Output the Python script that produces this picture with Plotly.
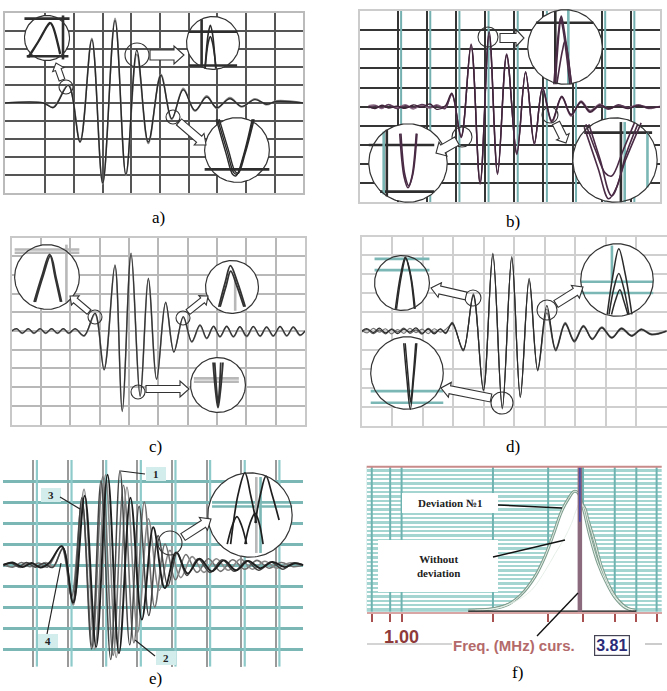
import numpy as np
import plotly.graph_objects as go

W, H = 667, 691

# ---------------- waveform extrema (time, amplitude) ----------------
# a) two superimposed echo signals
a_t = [-0.41, 0.93, 1.28, 1.80, 2.21, 2.62, 3.00, 3.43, 3.81, 4.19, 4.59, 5.03,
       5.41, 5.81, 6.22, 6.63, 6.98, 7.44, 7.85, 8.31, 8.72, 9.07, 10.0]
a_ref = [0, 0, -0.26, 0.98, -2.17, 3.52, -4.44, 4.59, -3.96, 2.93, -2.17, 1.54,
         -0.87, 0.74, -0.41, 0.33, -0.26, 0.24, -0.19, 0.19, -0.07, 0.09, 0]
a_dev = [0, 0, -0.22, 1.02, -2.10, 3.60, -4.50, 4.70, -4.02, 2.70, -2.25, 1.60,
         -0.92, 0.82, -0.46, 0.40, -0.30, 0.30, -0.22, 0.24, -0.10, 0.12, 0]

# b) three signals
b_t = [0, 0.23, 0.46, 0.69, 0.97, 1.26, 1.54, 1.83, 2.11, 2.34, 2.63, 2.86, 3.18,
       3.52, 3.83, 4.14, 4.43, 4.74, 5.09, 5.39, 5.69, 5.97, 6.29, 6.63, 6.95,
       7.29, 7.6, 7.94, 8.23, 8.57, 8.91, 9.26, 9.6, 10]
b_1 = [0, -0.1, 0.07, -0.07, 0.03, -0.09, 0.09, -0.03, 0.14, -0.14, 0.03, 0.7,
       -1.57, 3.22, -4.0, 3.92, -3.48, 2.7, -2.44, 1.83, -1.92, 0.96, -0.78, 0.52,
       -0.44, 0.26, -0.26, 0.09, -0.09, 0.03, -0.1, 0.05, -0.07, 0]
b_2 = [0.05, 0.08, -0.1, 0.12, -0.05, 0.1, -0.12, 0.06, -0.08, 0.1, -0.05, 0.62,
       -1.5, 3.1, -3.92, 3.85, -3.4, 2.62, -2.36, 1.76, -1.85, 0.9, -0.85, 0.48,
       -0.5, 0.3, -0.2, 0.14, -0.12, 0.08, -0.05, 0.1, -0.1, 0.02]
b_3 = [-0.06, 0.04, -0.04, 0.1, -0.1, 0.05, -0.05, 0.12, -0.02, 0.05, -0.1, 0.66,
       -1.62, 3.28, -4.05, 3.7, -3.55, 2.75, -2.5, 1.8, -1.98, 1.0, -0.72, 0.55,
       -0.4, 0.22, -0.3, 0.05, -0.14, 0.1, -0.06, 0.08, -0.03, -0.02]

# c) two signals with periodic background
c_t = [0, 0.17, 0.36, 0.57, 0.76, 0.97, 1.16, 1.36, 1.56, 1.76, 1.95, 2.16,
       2.47, 2.84, 3.15, 3.52, 3.77, 4.07, 4.38, 4.66, 4.94, 5.25, 5.53, 5.85, 6.14,
       6.42, 6.65, 6.88, 7.1, 7.33, 7.56, 7.78, 8.01, 8.24, 8.47, 8.69, 8.92, 9.15,
       9.38, 9.6, 9.83, 10]
c_1 = [0, 0.12, -0.12, 0.12, -0.12, 0.12, -0.12, 0.12, -0.12, 0.12, -0.12, 0.12,
       -0.25, 0.95, -2.09, 3.54, -4.32, 4.16, -3.52, 2.82, -2.6, 1.54, -1.14, 0.77, -0.57,
       0.32, -0.39, 0.25, -0.3, 0.25, -0.3, 0.23, -0.28, 0.24, -0.27, 0.22, -0.26, 0.24,
       -0.25, 0.22, -0.22, 0]
c_2 = [0, 0.1, -0.14, 0.1, -0.14, 0.1, -0.14, 0.1, -0.14, 0.1, -0.14, 0.1,
       -0.28, 0.9, -2.0, 3.45, -4.25, 4.05, -3.45, 2.75, -2.55, 1.48, -1.1, 0.72, -0.6,
       0.28, -0.42, 0.22, -0.33, 0.22, -0.33, 0.2, -0.31, 0.21, -0.3, 0.19, -0.29, 0.21,
       -0.28, 0.19, -0.25, 0]

# d) three signals
d_t = [0, 0.18, 0.38, 0.58, 0.78, 0.98, 1.18, 1.38, 1.58, 1.78, 1.98, 2.18, 2.38,
       2.58, 2.75, 2.97, 3.33, 3.66, 3.99, 4.3, 4.61, 4.92, 5.2, 5.49, 5.77, 6.07,
       6.36, 6.67, 6.97, 7.27, 7.56, 7.87, 8.2, 8.52, 8.85, 9.17, 9.5, 10]
d_1 = [0, 0.12, -0.08, 0.15, -0.1, 0.08, -0.14, 0.1, -0.06, 0.16, -0.12, 0.1,
       -0.15, 0.12, -0.1, 0.4, -1.0, 1.89, -3.1, 4.04, -4.04, 3.91, -3.46, 2.77,
       -2.05, 1.33, -1.0, 0.4, -0.53, 0.26, -0.42, 0.18, -0.35, 0.14, -0.25, 0.09,
       -0.18, 0]
d_2 = [0.04, -0.1, 0.14, -0.06, 0.12, -0.15, 0.08, -0.12, 0.14, -0.08, 0.1, -0.14,
       0.12, -0.06, 0.08, 0.35, -0.95, 1.82, -3.0, 3.95, -3.95, 3.82, -3.38, 2.7,
       -2.0, 1.15, -0.92, 0.46, -0.48, 0.3, -0.38, 0.22, -0.32, 0.17, -0.22, 0.12,
       -0.15, 0.02]
d_3 = [-0.05, 0.08, -0.14, 0.06, -0.15, 0.12, -0.06, 0.15, -0.12, 0.06, -0.16, 0.14,
       -0.08, 0.1, -0.14, 0.45, -1.05, 1.95, -3.15, 4.1, -4.1, 3.85, -3.5, 2.65,
       -2.1, 0.95, -1.05, 0.35, -0.58, 0.22, -0.45, 0.15, -0.38, 0.1, -0.28, 0.06,
       -0.2, -0.02]

# e) four signals, labelled 1..4
e_1_t = [-0.87, -0.65, -0.42, -0.2, 0.05, 0.3, 0.55, 0.86, 1.13, 1.4, 1.68, 1.95,
         2.23, 2.5, 2.78, 3.05, 3.33, 3.6, 3.88, 4.15, 4.43, 4.75, 5.1, 5.45, 5.8,
         6.15, 6.5, 6.85, 7.2, 7.5, 7.79]
e_1_v = [0, 0.1, -0.08, 0.12, -0.1, 0.08, -0.12, 0.8, -1.8, 3.2, -4.0, 4.0, -4.5,
         4.5, -3.8, 2.8, -2.4, 1.4, -1.0, 0.6, -0.5, 0.3, -0.35, 0.25, -0.3, 0.2,
         -0.25, 0.15, -0.2, 0.1, 0]
e_2_t = [-0.87, -0.6, -0.35, -0.1, 0.15, 0.4, 0.8, 1.1, 1.4, 1.7, 2.0, 2.3, 2.6,
         2.9, 3.2, 3.5, 3.8, 4.1, 4.4, 4.72, 5.05, 5.4, 5.75, 6.1, 6.45, 6.8, 7.15,
         7.5, 7.79]
e_2_v = [0.05, -0.1, 0.12, -0.08, 0.1, -0.1, 0.9, -1.5, 3.0, -3.9, 4.2, -4.3, 3.8,
         -3.7, 3.0, -2.0, 1.0, -0.7, 0.5, -0.35, 0.3, -0.3, 0.25, -0.2, 0.22, -0.15,
         0.12, -0.08, 0]
e_3_t = [-0.87, -0.62, -0.38, -0.15, 0.1, 0.35, 0.58, 0.84, 1.15, 1.46, 1.77, 2.08,
         2.39, 2.7, 3.01, 3.32, 3.63, 3.94, 4.25, 4.58, 4.92, 5.28, 5.62, 5.98, 6.32,
         6.68, 7.02, 7.38, 7.79]
e_3_v = [-0.05, 0.1, -0.12, 0.08, -0.1, 0.12, -0.08, 0.8, -1.9, 3.6, -4.0, 4.3,
         -4.4, 3.7, -3.2, 2.2, -1.2, 0.7, -0.6, 0.4, -0.35, 0.3, -0.25, 0.28, -0.2,
         0.18, -0.15, 0.1, 0]
e_4_t = [-0.87, -0.6, -0.32, -0.05, 0.2, 0.45, 0.82, 1.15, 1.48, 1.81, 2.14, 2.47,
         2.8, 3.13, 3.46, 3.79, 4.12, 4.45, 4.8, 5.15, 5.5, 5.85, 6.2, 6.55, 6.9,
         7.25, 7.55, 7.79]
e_4_v = [0, 0.12, -0.1, 0.1, -0.12, 0.1, 0.9, -1.8, 3.3, -3.9, 4.3, -4.2, 3.2,
         -2.6, 1.8, -1.1, 0.6, -0.4, 0.3, -0.3, 0.22, -0.25, 0.2, -0.15, 0.15, -0.1,
         0.08, 0]
e_labels = ["1", "2", "3", "4"]

# f) amplitude spectra, frequency in MHz
f_dev_x = [2.05, 2.44, 2.68, 2.89, 3.10, 3.26, 3.39, 3.52, 3.63, 3.72, 3.78, 3.86,
           3.97, 4.10, 4.23, 4.36, 4.52, 4.68]
f_dev_y = [0.01, 0.02, 0.05, 0.12, 0.24, 0.38, 0.53, 0.69, 0.78, 0.83, 0.82, 0.72,
           0.52, 0.33, 0.20, 0.10, 0.03, 0.01]
f_ref_x = [2.16, 2.47, 2.79, 3.05, 3.26, 3.42, 3.57, 3.68, 3.76, 3.81, 3.88, 3.94,
           4.05, 4.15, 4.28, 4.41, 4.57, 4.70]
f_ref_y = [0.01, 0.02, 0.07, 0.15, 0.28, 0.40, 0.51, 0.61, 0.71, 0.75, 0.72, 0.63,
           0.47, 0.31, 0.17, 0.08, 0.02, 0.0]
f_ticks = [0.53, 0.82, 1.0, 2.44, 3.31, 3.86, 4.36, 4.70, 5.02]
f_start = 1.00
f_cursor = 3.81
f_names = ["Deviation №1", "Without<br>deviation"]

# ---------------- magnified views (unit circle coordinates) ----------------
a_zoom1 = [([-0.86, -0.4, 0.04, 0.13, 0.24, 0.57], [-0.86, -0.16, 0.6, 0.68, 0.52, -0.72]),
           ([-0.8, -0.35, 0.08, 0.17, 0.28, 0.6], [-0.86, -0.13, 0.6, 0.66, 0.5, -0.7])]
a_zoom2 = [([-0.3, -0.18, -0.1, -0.02, 0.1], [-0.95, 0.35, 0.67, 0.35, -0.95]),
           ([-0.3, -0.18, -0.1, -0.02, 0.12], [-0.98, 0.02, 0.24, 0.02, -0.98])]
a_zoom3 = [([-0.6, -0.3, -0.1, 0.0, 0.22, 0.5], [0.95, -0.05, -0.7, -0.75, -0.15, 0.95]),
           ([-0.55, -0.26, -0.06, 0.04, 0.25, 0.53], [0.95, -0.02, -0.66, -0.72, -0.12, 0.95]),
           ([-0.64, -0.34, -0.13, -0.03, 0.19, 0.47], [0.95, -0.1, -0.76, -0.8, -0.2, 0.95])]
b_zoom1 = [([-0.26, -0.15, -0.1, -0.03, 0.17], [-1.0, 0.5, 0.83, 0.5, -0.96]),
           ([-0.22, -0.07, 0.0, 0.06, 0.17], [-1.0, -0.1, 0.17, -0.1, -1.0]),
           ([-0.3, -0.17, -0.12, -0.05, 0.13], [-1.0, 0.45, 0.78, 0.45, -1.0])]
b_zoom2 = [([-0.21, -0.1, 0.0, 0.1, 0.21], [0.75, -0.35, -0.63, -0.35, 0.75]),
           ([-0.18, -0.08, 0.02, 0.12, 0.23], [0.75, -0.3, -0.58, -0.3, 0.75])]
b_zoom3 = [([-0.69, -0.45, -0.23, -0.08, 0.2, 0.46], [0.85, 0.2, -0.31, -0.38, 0.25, 0.88]),
           ([-0.62, -0.35, -0.08, 0.25, 0.62], [0.85, 0.0, -0.85, 0.0, 0.88]),
           ([-0.73, -0.4, -0.15, 0.05, 0.25, 0.54], [0.78, -0.2, -0.92, -0.62, 0.1, 0.85])]
c_zoom1 = [([-0.4, -0.15, 0.08, 0.25, 0.42], [-0.77, 0.05, 0.7, 0.0, -0.77]),
           ([-0.36, -0.12, 0.11, 0.28, 0.45], [-0.77, 0.03, 0.66, -0.02, -0.77])]
c_zoom2 = [([-0.5, -0.25, -0.06, 0.2, 0.5], [-0.75, 0.2, 0.81, 0.2, -0.75]),
           ([-0.45, -0.22, -0.05, 0.18, 0.45], [-0.75, 0.05, 0.6, 0.05, -0.75])]
c_zoom3 = [([-0.18, -0.08, 0.0, 0.08, 0.18], [0.82, -0.3, -0.82, -0.3, 0.82]),
           ([-0.12, -0.05, 0.0, 0.05, 0.1], [0.82, -0.2, -0.7, -0.2, 0.82])]
d_zoom1 = [([-0.24, -0.05, 0.12, 0.3, 0.45], [-0.94, 0.3, 0.94, 0.3, -0.94]),
           ([-0.2, -0.02, 0.14, 0.32, 0.48], [-0.94, 0.28, 0.9, 0.28, -0.94])]
d_zoom2 = [([-0.27, -0.1, 0.05, 0.22, 0.41], [-0.95, 0.2, 0.86, 0.2, -0.95]),
           ([-0.22, -0.08, 0.05, 0.18, 0.33], [-0.95, -0.2, 0.18, -0.2, -0.95]),
           ([-0.15, -0.04, 0.08, 0.18, 0.3], [-0.95, -0.55, -0.27, -0.55, -0.95])]
d_zoom3 = [([-0.09, 0.0, 0.09, 0.18, 0.27], [0.82, -0.2, -1.0, -0.2, 0.82]),
           ([-0.05, 0.03, 0.1, 0.17, 0.24], [0.82, -0.1, -0.8, -0.1, 0.82])]
e_zoom1 = [([-0.46, -0.28, -0.12, 0.02, 0.15], [-0.69, 0.5, 1.0, 0.45, -0.19]),
           ([0.12, 0.25, 0.38, 0.52, 0.69], [-0.19, 0.5, 0.92, 0.5, -0.12]),
           ([-0.54, -0.42, -0.31, -0.2, -0.08], [-0.69, -0.25, -0.04, -0.25, -0.69]),
           ([-0.12, 0.0, 0.12, 0.22, 0.31], [-0.69, -0.2, 0.04, -0.2, -0.69])]

# ---------------- styling ----------------
DARK = "#2e2e2e"
TEAL = "#7ab7b5"
GRAY = "#b8b8b8"
RULE_COL = {"d": DARK, "t": TEAL, "g": GRAY}
SERIF = "Liberation Serif"
SANS = "Liberation Sans"

fig = go.Figure()
layout = dict(width=W, height=H, margin=dict(l=0, r=0, t=0, b=0),
              paper_bgcolor="white", plot_bgcolor="rgba(0,0,0,0)",
              showlegend=False, hovermode=False)
shapes, annotations = [], []


def axn(i, c):
    return f"{c}axis" if i == 1 else f"{c}axis{i}"


def ref(i, c):
    return c if i == 1 else f"{c}{i}"


def px_x(x):
    return x / W


def px_y(y):
    return 1 - y / H


def text_at(x, y, text, font, xref="paper", **kw):
    annotations.append(dict(x=x, y=px_y(y), xref=xref, yref="paper", text=text,
                            showarrow=False, xanchor="center", yanchor="middle",
                            font=font, **kw))


def panel(i, box, xr, yr, xgrid, ygrid, gcol, gw, border=None):
    x0, y0, x1, y1 = box
    common = dict(showticklabels=False, ticks="", zeroline=False, fixedrange=True,
                  showgrid=True, gridcolor=gcol, gridwidth=gw,
                  showline=border is not None, linecolor=border or "white",
                  linewidth=1.5, mirror=True)
    layout[axn(i, "x")] = dict(domain=[px_x(x0), px_x(x1)], range=xr,
                               anchor=ref(i, "y"), tickvals=xgrid, **common)
    layout[axn(i, "y")] = dict(domain=[px_y(y1), px_y(y0)], range=yr,
                               anchor=ref(i, "x"), tickvals=ygrid, **common)


def curve(i, x, y, color, width, spline=True, **kw):
    fig.add_trace(go.Scatter(
        x=x, y=y, xaxis=ref(i, "x"), yaxis=ref(i, "y"), mode="lines",
        line=dict(color=color, width=width, shape="spline" if spline else "linear",
                  smoothing=1.0), hoverinfo="skip", **kw))


def vrule(i, x, yr, color, width):
    curve(i, [x, x], yr, color, width, spline=False)


def paper_line(x0, y0, x1, y1, color, width):
    shapes.append(dict(type="line", xref="paper", yref="paper", x0=px_x(x0),
                       y0=px_y(y0), x1=px_x(x1), y1=px_y(y1),
                       line=dict(color=color, width=width), layer="above"))


def paper_rect(x0, y0, x1, y1, fill, layer="above"):
    shapes.append(dict(type="rect", xref="paper", yref="paper", x0=px_x(x0),
                       x1=px_x(x1), y0=px_y(y1), y1=px_y(y0), fillcolor=fill,
                       line=dict(width=0), layer=layer))


def arrow(p0, p1, sw, hw, hl):
    (x0, y0), (x1, y1) = p0, p1
    dx, dy = x1 - x0, y1 - y0
    L = np.hypot(dx, dy)
    ux_, uy_ = dx / L, dy / L
    nx, ny = -uy_, ux_
    bx, by = x1 - ux_ * hl, y1 - uy_ * hl
    pts = [(x0 + nx * sw / 2, y0 + ny * sw / 2), (bx + nx * sw / 2, by + ny * sw / 2),
           (bx + nx * hw / 2, by + ny * hw / 2), (x1, y1),
           (bx - nx * hw / 2, by - ny * hw / 2), (bx - nx * sw / 2, by - ny * sw / 2),
           (x0 - nx * sw / 2, y0 - ny * sw / 2)]
    path = "M " + " L ".join(f"{px_x(px):.5f},{px_y(py):.5f}" for px, py in pts) + " Z"
    shapes.append(dict(type="path", xref="paper", yref="paper", path=path,
                       fillcolor="white", line=dict(color="#333", width=1.1),
                       layer="above"))


def ring(cx, cy, r, width=1.1):
    shapes.append(dict(type="circle", xref="paper", yref="paper",
                       x0=px_x(cx - r), x1=px_x(cx + r), y0=px_y(cy + r), y1=px_y(cy - r),
                       line=dict(color="#333", width=width), layer="above"))


# ---------------- main panels ----------------
panel(1, (5, 13, 303.3, 193), [-0.41, 10], [-5, 5], list(range(1, 11)),
      list(range(-4, 5)), "#555555", 1.5, border="#bbbbbb")
panel(2, (360, 11, 660, 202.3), [-0.29, 10], [-5, 5], list(range(1, 11)),
      list(range(-4, 5)), "#353535", 1.5, border="#cccccc")
panel(3, (11.7, 238.3, 305, 425), [0, 10], [-5.04, 4.96], list(range(1, 10)),
      list(range(-4, 5)), GRAY, 2, border="#c8c8c8")
panel(4, (361.7, 236.7, 666.7, 425.7), [0, 10], [-4.98, 4.96], list(range(1, 10)),
      list(range(-4, 5)), "#cfcfcf", 2, border="#d0d0d0")
panel(5, (3.3, 460, 303.3, 666.7), [-0.87, 7.79], [-4.84, 5.0], list(range(0, 8)),
      list(range(-4, 5)), TEAL, 3)
layout["xaxis5"]["gridcolor"] = "#9a9a9a"
layout["xaxis5"]["gridwidth"] = 1.5

# doubled grid lines in b) and e)
for v in range(1, 10):
    vrule(2, v + 0.12, [-5, 5], "#74b0b0", 2)
for v in range(0, 8):
    vrule(5, v + 0.1, [-4.84, 5.0], "#8fcaca", 2.2)

# a)
curve(1, a_t, a_dev, "#8a8a8a", 1.6)
curve(1, a_t, a_ref, "#2a2a2a", 1.4)
# b)
for ser, col in ((b_2, "#8b6c86"), (b_3, "#5a3a56"), (b_1, "#3e2339")):
    curve(2, b_t, ser, col, 1.4)
# c)
curve(3, c_t, c_2, "#8c8c8c", 1.6)
curve(3, c_t, c_1, "#333333", 1.3)
# d)
for ser, col in ((d_2, "#777777"), (d_3, "#555555"), (d_1, "#2a2a2a")):
    curve(4, d_t, ser, col, 1.2)
# e)
for (tt, vv), col, wd in (((e_2_t, e_2_v), "#6f6f6f", 1.6),
                          ((e_3_t, e_3_v), "#888888", 1.6),
                          ((e_1_t, e_1_v), "#444444", 1.5),
                          ((e_4_t, e_4_v), "#1e1e1e", 1.9)):
    curve(5, tt, vv, col, wd)

# ---------------- f) spectrum ----------------
F_BOX = (366.7, 466.7, 661.7, 611.7)
layout["xaxis6"] = dict(domain=[px_x(F_BOX[0]), px_x(F_BOX[2])], range=[0.45, 5.1],
                        anchor="y6", tickvals=f_ticks, showticklabels=False,
                        ticks="outside", ticklen=8, tickwidth=2, tickcolor="#a85050",
                        showgrid=False, zeroline=False, showline=True,
                        linecolor="#d8a4a4", linewidth=2, fixedrange=True)
layout["yaxis6"] = dict(domain=[px_y(F_BOX[3]), px_y(F_BOX[1])], range=[0, 1],
                        anchor="x6", tickvals=[k * 0.03 for k in range(1, 34)],
                        showticklabels=False, ticks="", showgrid=True,
                        gridcolor="white", gridwidth=1.6, zeroline=False,
                        showline=False, fixedrange=True)
paper_rect(*F_BOX, "#a5d5d1", layer="below")
for v in f_ticks:
    vrule(6, v, [0, 1], "#6fb3b1", 2)
paper_line(F_BOX[0], F_BOX[1], F_BOX[2], F_BOX[1], "#c98a8a", 2)

for xs, ys in ((f_ref_x, f_ref_y), (f_dev_x, f_dev_y)):
    fig.add_trace(go.Scatter(x=xs, y=ys, xaxis="x6", yaxis="y6", mode="lines",
                             fill="tozeroy", fillcolor="white",
                             line=dict(color="#7f9e8f", width=3, shape="spline"),
                             hoverinfo="skip"))
for xs, ys in ((f_ref_x, f_ref_y), (f_dev_x, f_dev_y)):
    curve(6, xs, ys, "#e6efe8", 1)
curve(6, [min(f_dev_x + f_ref_x), max(f_dev_x + f_ref_x)], [0, 0], "#111111", 2.2,
      spline=False)
curve(6, [f_cursor, f_cursor], [0, 1], "#8c6a7e", 4.5, spline=False)
curve(6, [f_cursor, f_cursor], [0.62, 1], "#4747b0", 1.5, spline=False)

# label boxes and leaders
paper_rect(402, 493, 498, 513, "white")
paper_rect(378, 540, 498, 592, "white")
text_at(px_x(450), 503, f"<b>{f_names[0]}</b>", dict(family=SERIF, size=11, color="#222"))
text_at(px_x(438), 566, f"<b>{f_names[1]}</b>", dict(family=SERIF, size=11, color="#222"))
for seg in ((498, 505, 562, 508), (493, 557, 565, 540), (537, 636, 578, 593)):
    paper_line(*seg, "#111", 1.4)

text_at(f_start, 637, f"<b>{f_start:.2f}</b>",
        dict(family=SANS, size=18, color="#8e3a3a"), xref="x6")
paper_line(367, 644, 452, 644, "#aaaaaa", 1.2)
paper_line(645, 644, 662, 644, "#aaaaaa", 1.2)
text_at(px_x(514), 645, "<b>Freq. (MHz) curs.</b>",
        dict(family=SANS, size=15, color="#b46a6a"))
text_at(px_x(612), 645, f"<b>{f_cursor:.2f}</b>",
        dict(family=SANS, size=16, color="#2b2b78"),
        bgcolor="white", bordercolor="#445", borderwidth=1.2, borderpad=1)

# ---------------- e) curve labels ----------------
e_tags = [((156, 474), (145, 474), (121, 471)),
          ((166, 658), (155, 656), (135, 640)),
          ((51, 495), (60, 497), (80, 509)),
          ((48, 641), (47, 634), (61, 563))]
for lab, ((tx, ty), (l0x, l0y), (l1x, l1y)) in zip(e_labels, e_tags):
    paper_rect(tx - 10, ty - 7, tx + 10, ty + 7, "#d3eded")
    paper_line(l0x, l0y, l1x, l1y, "#222", 1.2)
    text_at(px_x(tx), ty, f"<b>{lab}</b>", dict(family=SERIF, size=11, color="#222"))

# ---------------- magnified insets ----------------
insets = [
    # (big circle cx, cy, r), views, rulers, small circle, arrow, curve style
    ((47, 38, 23), a_zoom1, [(-1, 0.86, 1, 0.86, "d"), (-0.9, -0.81, 0.95, -0.81, "d"),
                            (0.71, -0.95, 0.71, 1.0, "d")],
     (66, 87, 7), ((62, 80), (56, 63), 6, 12, 7), ("#2a2a2a", 1.6)),
    ((213, 43, 27), a_zoom2, [(-0.91, 0.43, 0.91, 0.43, "d"), (-0.91, -0.85, 0.91, -0.85, "d"),
                             (-0.43, -0.9, -0.43, 0.9, "d")],
     (137, 55, 12), ((150, 55), (184, 55), 10, 18, 10), ("#2a2a2a", 1.6)),
    ((237, 150, 33), a_zoom3, [(-1, -0.6, 1, -0.6, "d")],
     (173, 117, 7), ((179, 122), (206, 145), 8, 15, 9), ("#2a2a2a", 1.4)),
    ((565, 47, 38), b_zoom1, [(-0.78, 0.65, 0.76, 0.65, "d"), (-0.26, -0.97, -0.26, 0.97, "d"),
                             (0.09, -1, 0.09, 1, "t")],
     (488, 37, 10), ((500, 38), (524, 38), 9, 17, 8), ("#4a2b45", 1.6)),
    ((408, 163, 40), b_zoom2, [(-1, 0.46, 0.67, 0.46, "d"), (-0.71, -0.73, 0.67, -0.73, "d"),
                              (-0.54, -0.85, -0.54, 0.85, "d"), (-0.62, -0.8, -0.62, 0.8, "t")],
     (462, 137, 10), ((457, 141), (436, 153), 9, 16, 8), ("#4a2b45", 1.6)),
    ((615, 160, 43), b_zoom3, [(-0.73, 0.65, 0.88, 0.65, "d"), (0.14, -1, 0.14, 0.9, "d"),
                              (0.23, -1, 0.23, 0.9, "t"), (0.77, -0.65, 0.77, 0.65, "t")],
     (550, 115, 8), ((556, 123), (566, 143), 8, 14, 7), ("#4a2b45", 1.6)),
    ((47, 277, 33), c_zoom1, [(-1, 0.85, 1, 0.85, "g"), (-1, 0.75, 1, 0.75, "g"),
                             (0.6, -0.8, 0.6, 1, "g")],
     (95, 317, 7), ((89, 312), (70, 296), 6, 12, 7), ("#333333", 1.8)),
    ((232, 287, 27), c_zoom2, [(0.12, -0.9, 0.12, 0.3, "g")],
     (183, 318, 7), ((188, 312), (208, 296), 6, 12, 7), ("#333333", 1.8)),
    ((218, 385, 28), c_zoom3, [(-0.88, 0.24, 0.76, 0.24, "g"), (-0.88, 0.12, 0.76, 0.12, "g")],
     (138, 392, 7), ((146, 389), (189, 389), 7, 16, 9), ("#333333", 1.8)),
    ((402, 283, 28), d_zoom1, [(-1, 0.88, 1, 0.88, "t"), (-1, 0.47, 1, 0.47, "t")],
     (473, 298, 8), ((466, 296), (431, 288), 8, 15, 9), ("#2a2a2a", 1.5)),
    ((617, 280, 37), d_zoom2, [(-1, -0.05, 1, -0.05, "t"), (-1, -0.36, 1, -0.36, "t"),
                              (-0.14, 0.0, -0.14, 0.95, "t")],
     (547, 310, 10), ((556, 304), (583, 287), 8, 15, 9), ("#2a2a2a", 1.5)),
    ((407, 373, 37), d_zoom3, [(-1, -0.5, 1, -0.5, "t"), (-1, -0.82, 1, -0.82, "t")],
     (502, 403, 11), ((491, 398), (441, 388), 8, 15, 9), ("#2a2a2a", 1.5)),
    ((250, 515, 43), e_zoom1, [(-0.9, 0.3, 1, 0.3, "t"), (-0.9, 0.2, 1, 0.2, "t"),
                              (0.15, -0.9, 0.15, 0.9, "g"), (0.25, -0.9, 0.25, 0.9, "t")],
     (170, 543, 12), ((183, 537), (211, 519), 8, 15, 9), ("#1e1e1e", 1.7)),
]

theta = np.linspace(0, 2 * np.pi, 181)
ux, uy = np.cos(theta), np.sin(theta)
for k, ((cx, cy, r), views, rulers, small, arr, (ccol, cw)) in enumerate(insets):
    i = 7 + k
    layout[axn(i, "x")] = dict(domain=[px_x(cx - r), px_x(cx + r)], range=[-1.02, 1.02],
                               anchor=ref(i, "y"), visible=False, fixedrange=True)
    layout[axn(i, "y")] = dict(domain=[px_y(cy + r), px_y(cy - r)], range=[-1.02, 1.02],
                               anchor=ref(i, "x"), visible=False, fixedrange=True)
    fig.add_trace(go.Scatter(x=ux, y=uy, xaxis=ref(i, "x"), yaxis=ref(i, "y"),
                             mode="lines", fill="toself", fillcolor="white",
                             line=dict(color="white", width=0), hoverinfo="skip"))
    for (rx0, ry0, rx1, ry1, kind) in rulers:
        curve(i, [rx0, rx1], [ry0, ry1], RULE_COL[kind], 2.6, spline=False)
    for xs, ys in views:
        curve(i, xs, ys, ccol, cw)
    curve(i, ux, uy, "#333333", 1.2, spline=False)
    ring(*small)
    (p0, p1, sw, hw, hl) = arr
    arrow(p0, p1, sw, hw, hl)

# ---------------- panel captions ----------------
for lab, (lx, ly) in zip(["a)", "b)", "c)", "d)", "e)", "f)"],
                         [(158, 217), (513, 221), (155, 447), (513, 447),
                          (155, 678), (517, 672)]):
    text_at(px_x(lx), ly, lab, dict(family=SERIF, size=17, color="black"))

layout["shapes"] = shapes
layout["annotations"] = annotations
fig.update_layout(**layout)
fig.write_html("out.html")
